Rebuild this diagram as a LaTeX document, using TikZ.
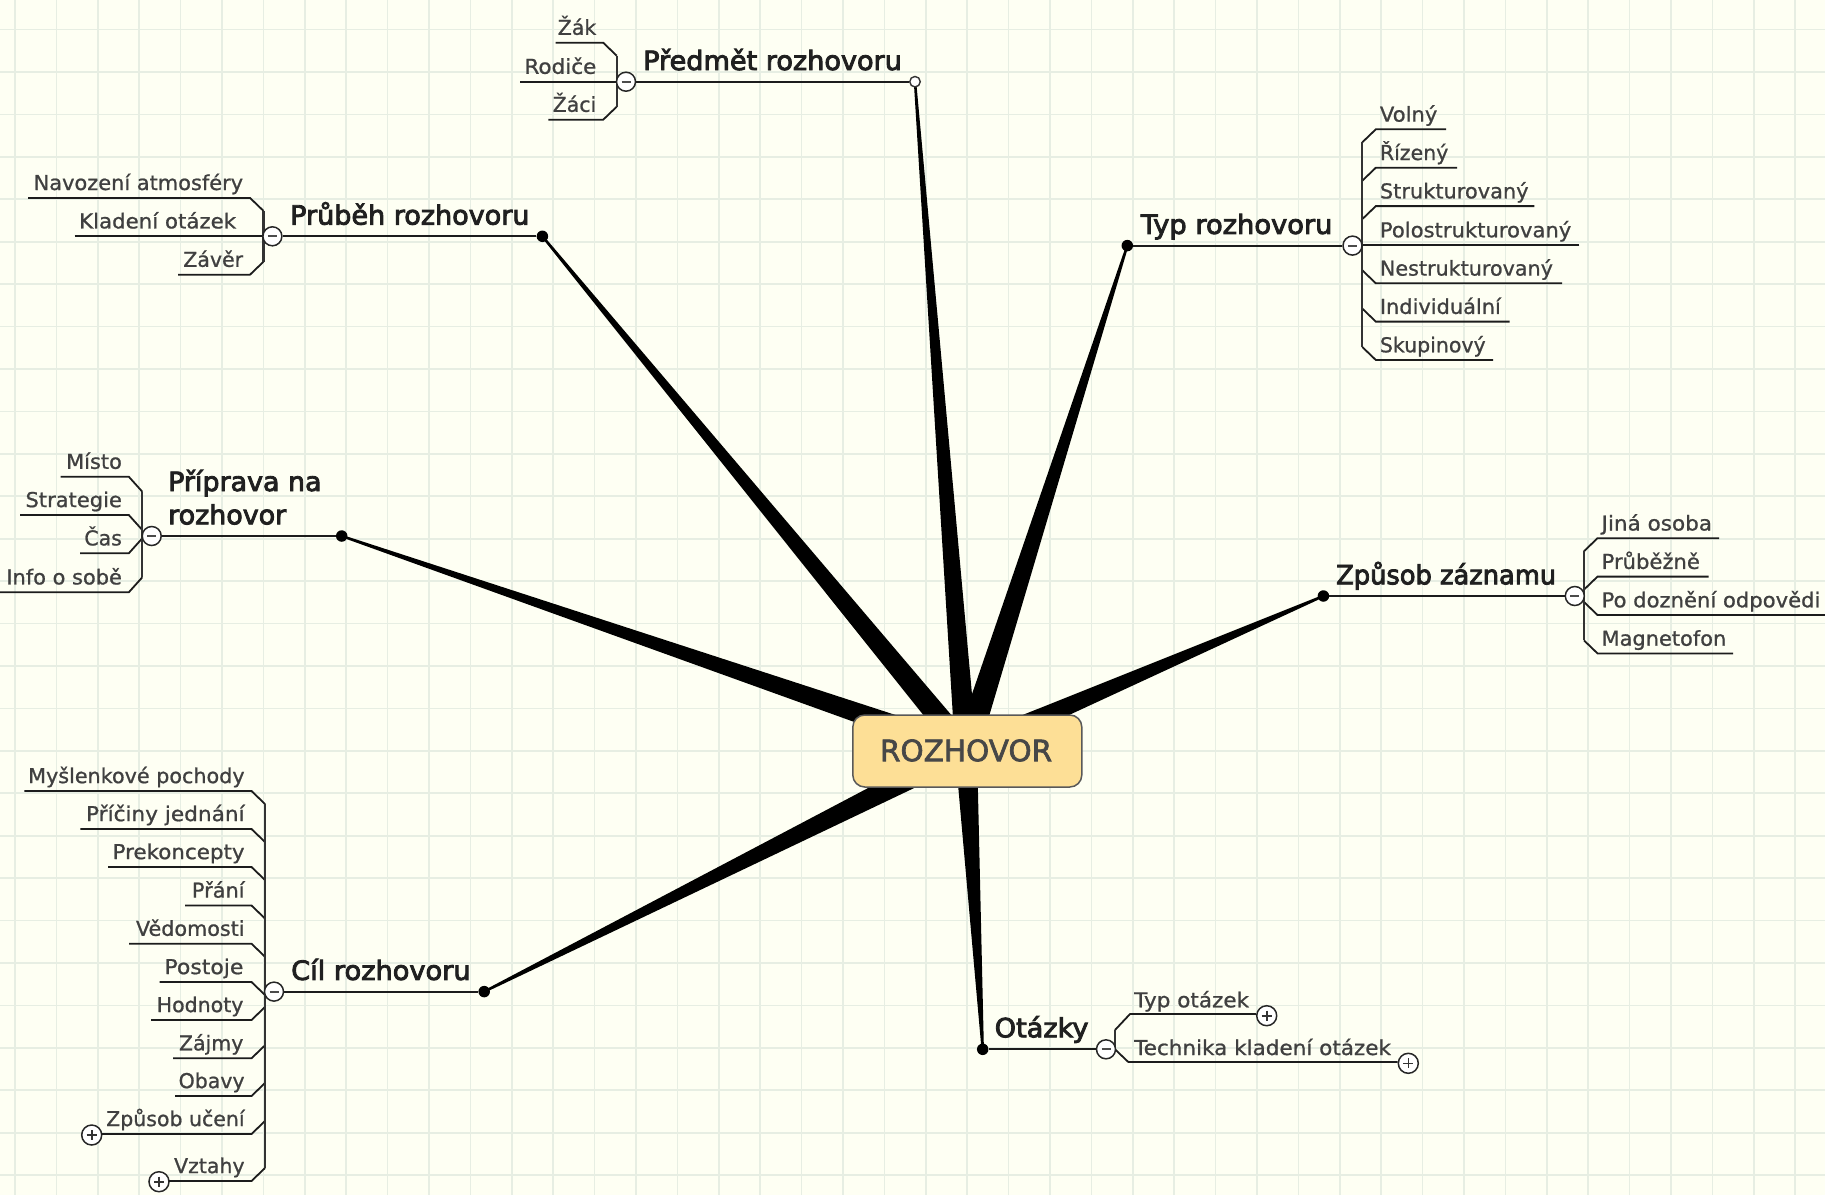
\documentclass[tikz,border=0pt]{standalone}
\usepackage{fontspec}
\setmainfont{DejaVu Sans}[FakeBold=0.9]
\newfontfamily\topicfont[FakeBold=3.2]{DejaVu Sans}
\newfontfamily\rootfont[FakeBold=2.2]{DejaVu Sans}
\usetikzlibrary{calc}
\definecolor{paper}{HTML}{FEFFF3}
\definecolor{gridc}{HTML}{E7EEE3}
\definecolor{rootfill}{HTML}{FDDF96}
\definecolor{subtxt}{HTML}{404040}
\definecolor{toptxt}{HTML}{202020}
\definecolor{branchc}{HTML}{1C1C1C}
\tikzset{
  gridline/.style={draw=gridc,line width=1.7pt},
  spokeshape/.style={fill=black,draw=none},
  rootbox/.style={rectangle,rounded corners=12pt,draw=black!65,line width=1.5pt,fill=rootfill,
     minimum width=229pt,minimum height=72pt,inner sep=0pt,text=black!72,
     font=\rootfont\fontsize{29.5}{34}\selectfont},
  topicdot/.style={circle,fill=black,draw=none,minimum size=11.5pt,inner sep=0pt},
  topicopen/.style={circle,fill=white,draw=black!80,line width=1.4pt,minimum size=10.5pt,inner sep=0pt},
  topiclabel/.style={inner sep=0pt,anchor=base west,text=toptxt,align=left,
     font=\topicfont\fontsize{26.5}{33.3}\selectfont},
  sublabel/.style={inner sep=0pt,text=subtxt,font=\fontsize{20.5}{24}\selectfont},
  branch/.style={draw=branchc,line width=1.8pt,line join=miter},
  trunk/.style={draw=black!80,line width=2.1pt},
  topicline/.style={draw=branchc,line width=2pt},
  togminus/.style={circle,draw=black!85,line width=1.5pt,fill=white,minimum size=19pt,inner sep=0pt,
     path picture={\draw[black!70,line width=2pt] (path picture bounding box.center) +(-4.5,0) -- +(4.5,0);}},
  togplus/.style={circle,draw=black!85,line width=1.5pt,fill=white,minimum size=20pt,inner sep=0pt,
     path picture={\draw[black!80,line width=1.6pt] (path picture bounding box.center) +(-5,0) -- +(5,0) (path picture bounding box.center) +(0,-5) -- +(0,5);}},
}
\newcommand{\sx}[2]{\scalebox{#1}[1]{#2}}
% id, text, line y, left x, trunk x, trunk offset
\newcommand{\subLeft}[6]{%
  \node[sublabel,anchor=base east] (#1) at ({#5-20.2},{#3-7.9}) {#2};
  \coordinate (#1a) at (#4,#3);
  \coordinate (#1b) at ({#5-13.5},#3);
  \coordinate (#1c) at (#5,{#3+#6});
  \draw[branch] (#1a) -- (#1b) -- (#1c);
}
% id, text, line y, right x, trunk x, trunk offset
\newcommand{\subRight}[6]{%
  \node[sublabel,anchor=base west] (#1) at ({#5+17.4},{#3-7.7}) {#2};
  \coordinate (#1a) at (#4,#3);
  \coordinate (#1b) at ({#5+13.5},#3);
  \coordinate (#1c) at (#5,{#3+#6});
  \draw[branch] (#1a) -- (#1b) -- (#1c);
}
\newcommand{\spokeTo}[3]{%
  \fill[spokeshape] ($(rootc)!#2pt!90:(#1)$) -- ($(#1)!#3pt!-90:(rootc)$) -- ($(#1)!#3pt!90:(rootc)$) -- ($(rootc)!#2pt!-90:(#1)$) -- cycle;
}
\begin{document}
\begin{tikzpicture}[x=1pt,y=-1pt]
\useasboundingbox (0,0) rectangle (1825,1195);
\fill[paper] (0,0) rectangle (1825,1195);
\foreach \k in {0,...,43} \draw[gridline] ({15+41.4*\k},0) -- ({15+41.4*\k},1195);
\foreach \k in {0,...,27} \draw[gridline] (0,{29.5+42.43*\k}) -- (1825,{29.5+42.43*\k});

\coordinate (rootc) at (966,750);
\coordinate (ePred) at (915,81.7);
\coordinate (ePrub) at (542.4,236.3);
\coordinate (eTyp)  at (1127.3,245.6);
\coordinate (ePrip) at (341.7,536);
\coordinate (eZpus) at (1323.4,596);
\coordinate (eCil)  at (484.2,991.6);
\coordinate (eOtaz) at (982.7,1049.3);
\spokeTo{ePred}{11}{1.2}
\spokeTo{ePrub}{11.5}{1.2}
\spokeTo{eTyp}{12.5}{1.2}
\spokeTo{ePrip}{11.5}{1.2}
\spokeTo{eZpus}{11.5}{1.2}
\spokeTo{eCil}{12}{1.2}
\spokeTo{eOtaz}{11}{1.2}

\node[rootbox] (root) at (967.3,751) {\raisebox{1.5pt}{\kern-2.5pt ROZHOVOR}};

% Predmet
\subLeft{pA}{Žák}{42.7}{555.7}{616.7}{13}
\subLeft{pB}{\sx{1.05}{Rodiče}}{81.7}{520}{616.7}{0}
\subLeft{pC}{Žáci}{119.7}{548.3}{616.7}{-13}
\draw[trunk] (pAc) -- (pCc);
\node[topicopen] (dPred) at (ePred) {};
\node[togminus] (tPred) at (626,81.7) {};
\draw[topicline] (dPred) -- (tPred);
\node[topiclabel] (lPred) at (643,70) {\sx{1.023}{Předmět rozhovoru}};

% Prubeh
\subLeft{bA}{\sx{1.02}{Navození atmosféry}}{197.9}{28}{263.5}{13}
\subLeft{bB}{\sx{1.04}{Kladení otázek}\kern7pt}{236.3}{74.5}{263.5}{0}
\subLeft{bC}{Závěr}{274.7}{178}{263.5}{-13}
\draw[trunk] (bAc) -- (bCc);
\node[topicdot] (dPrub) at (ePrub) {};
\node[togminus] (tPrub) at (272.4,236.3) {};
\draw[topicline] (dPrub) -- (tPrub);
\node[topiclabel] (lPrub) at (290,224.6) {\sx{1.02}{Průběh rozhovoru}};

% Typ
\subRight{tA}{\sx{1.03}{Volný}}{129.3}{1446}{1362.3}{13}
\subRight{tB}{Řízený}{167.7}{1457}{1362.3}{13}
\subRight{tC}{\sx{1.02}{Strukturovaný}}{206.1}{1534.3}{1362.3}{13}
\subRight{tD}{\sx{1.03}{Polostrukturovaný}}{245}{1579.3}{1362.3}{0}
\subRight{tE}{\sx{1.01}{Nestrukturovaný}}{283.3}{1562}{1362.3}{-13}
\subRight{tF}{\sx{1.02}{Individuální}}{321.6}{1509.6}{1362.3}{-13}
\subRight{tG}{Skupinový}{360}{1493}{1362.3}{-13}
\draw[trunk] (tAc) -- (tGc);
\node[topicdot] (dTyp) at (eTyp) {};
\node[togminus] (tTyp) at (1352.5,245.6) {};
\draw[topicline] (dTyp) -- (tTyp);
\node[topiclabel] (lTyp) at (1140.6,233.9) {\sx{1.03}{Typ rozhovoru}};

% Priprava
\subLeft{rA}{\sx{1.02}{Místo}}{476.7}{60.7}{142.3}{15}
\subLeft{rB}{\sx{1.025}{Strategie}}{515}{20}{142.3}{15}
\subLeft{rC}{Čas}{553.3}{80}{142.3}{-15}
\subLeft{rD}{\sx{1.02}{Info o sobě}}{592.3}{0}{142.3}{-15}
\draw[trunk] (rAc) -- (rDc);
\node[topicdot] (dPrip) at (ePrip) {};
\node[togminus] (tPrip) at (151.7,536) {};
\draw[topicline] (dPrip) -- (tPrip);
\node[topiclabel] (lPrip) at (168,524.3) {\sx{1.015}{Příprava na}\\\sx{1.015}{rozhovor}};

% Zpusob
\subRight{zA}{\sx{1.05}{Jiná osoba}}{538.2}{1719}{1584}{13}
\subRight{zB}{\sx{1.03}{Průběžně}}{576.6}{1708.6}{1584}{13}
\subRight{zC}{\sx{1.03}{Po doznění odpovědi}}{615}{1825}{1584}{-13}
\subRight{zD}{\sx{1.02}{Magnetofon}}{653.4}{1733}{1584}{-13}
\draw[trunk] (zAc) -- (zDc);
\node[topicdot] (dZpus) at (eZpus) {};
\node[togminus] (tZpus) at (1574.8,596) {};
\draw[topicline] (dZpus) -- (tZpus);
\node[topiclabel] (lZpus) at (1336,584.3) {\sx{0.97}{Způsob záznamu}};

% Cil
\subLeft{cA}{\sx{1.01}{Myšlenkové pochody}}{791}{24.4}{265}{13}
\subLeft{cB}{\sx{1.055}{Příčiny jednání}}{829}{80.3}{265}{13}
\subLeft{cC}{\sx{1.045}{Prekoncepty}}{867}{108}{265}{13}
\subLeft{cD}{\sx{1.02}{Přání}}{905.5}{185}{265}{13}
\subLeft{cE}{\sx{1.01}{Vědomosti}}{943.7}{129}{265}{13}
\subLeft{cF}{\sx{1.07}{Postoje}\kern1.2pt}{982}{159.5}{265}{13}
\subLeft{cG}{Hodnoty\kern1.2pt}{1020}{151}{265}{-13}
\subLeft{cH}{Zájmy\kern1.2pt}{1058.3}{173}{265}{-13}
\subLeft{cI}{Obavy}{1096}{175}{265}{-13}
\node[togplus] (cJt) at (91.7,1135) {};
\subLeft{cJ}{Způsob učení}{1134}{101}{265}{-13}
\node[togplus] (cKt) at (159,1181.7) {};
\subLeft{cK}{Vztahy}{1181}{169}{265}{-13}
\draw[trunk] (cAc) -- (cKc);
\node[topicdot] (dCil) at (eCil) {};
\node[togminus] (tCil) at (274,991.6) {};
\draw[topicline] (dCil) -- (tCil);
\node[topiclabel] (lCil) at (291,979.9) {\sx{1.027}{Cíl rozhovoru}};

% Otazky
\node[sublabel,anchor=base west] (oA) at (1134,1007.3) {\sx{1.05}{Typ otázek}};
\node[sublabel,anchor=base west] (oB) at (1134,1055) {\sx{1.05}{Technika kladení otázek}};
\node[togplus] (oAt) at (1266.7,1015.7) {};
\node[togplus] (oBt) at (1408.3,1063.3) {};
\coordinate (oAb) at (1130,1014);
\coordinate (oAc) at (1115,1030);
\coordinate (oBb) at (1128.3,1062);
\coordinate (oBc) at (1115,1049.3);
\draw[branch] (oAt.west |- oAb) -- (oAb) -- (oAc);
\draw[branch] (oBt.west |- oBb) -- (oBb) -- (oBc);
\draw[trunk] (oAc) -- (oBc);
\node[topicdot] (dOtaz) at (eOtaz) {};
\node[togminus] (tOtaz) at (1106,1049.3) {};
\draw[topicline] (dOtaz) -- (tOtaz);
\node[topiclabel] (lOtaz) at (994.5,1037.3) {\sx{1.025}{Otázky}};
\end{tikzpicture}
\end{document}
